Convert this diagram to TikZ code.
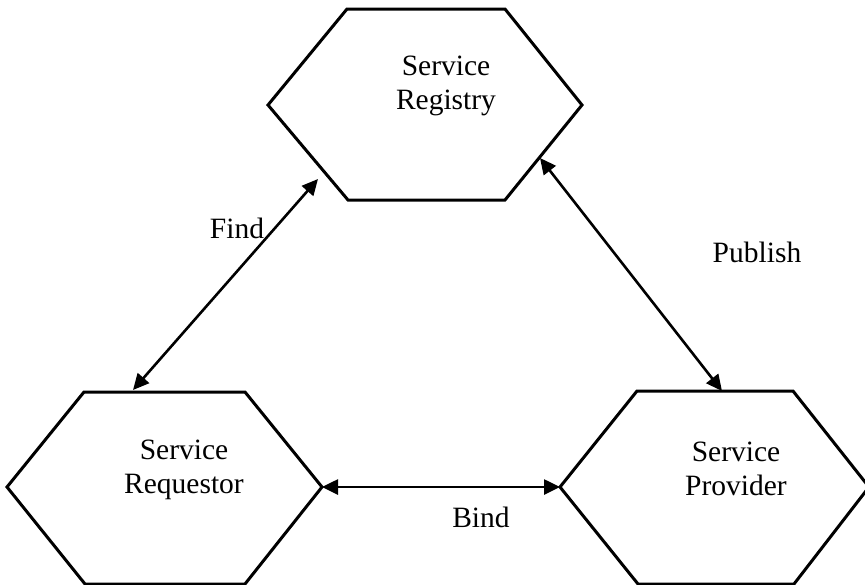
\documentclass[tikz,border=0pt]{standalone}
\usepackage{fontspec}
\setmainfont{Liberation Serif}
\usetikzlibrary{arrows.meta}
\begin{document}
\begin{tikzpicture}[x=1pt,y=-1pt,
  hexline/.style={draw=black, line width=3pt, line join=miter},
  conn/.style={line width=2.6pt, {Triangle[length=16pt,width=15pt]}-{Triangle[length=16pt,width=15pt]}},
  txt/.style={align=center, font=\fontsize{29.5}{34}\selectfont, inner sep=0pt},
  lbl/.style={font=\fontsize{29.5}{34}\selectfont, inner sep=0pt}]
\useasboundingbox (0,0) rectangle (865,584);
% Service Registry hexagon
\coordinate (regL) at (268,105);
\coordinate (regTL) at (347,9);
\coordinate (regTR) at (505,9);
\coordinate (regR) at (582,105);
\coordinate (regBR) at (505,200);
\coordinate (regBL) at (348,200);
\draw[hexline] (regL) -- (regTL) -- (regTR) -- (regR) -- (regBR) -- (regBL) -- cycle;
% Service Requestor hexagon
\coordinate (reqL) at (7,487);
\coordinate (reqTL) at (84,392);
\coordinate (reqTR) at (245,392);
\coordinate (reqR) at (322,487);
\coordinate (reqBR) at (245,584);
\coordinate (reqBL) at (85,584);
\draw[hexline] (reqL) -- (reqTL) -- (reqTR) -- (reqR) -- (reqBR) -- (reqBL) -- cycle;
% Service Provider hexagon
\coordinate (proL) at (560,487);
\coordinate (proTL) at (637,391);
\coordinate (proTR) at (793,391);
\coordinate (proR) at (869,487);
\coordinate (proBR) at (794,584);
\coordinate (proBL) at (638,584);
\draw[hexline] (proL) -- (proTL) -- (proTR) -- (proR) -- (proBR) -- (proBL) -- cycle;
% texts
\node[txt] (registry) at (446,86) {Service\\Registry};
\node[txt] (requestor) at (184,470) {Service\\Requestor};
\node[txt] (provider) at (736,469) {Service\\Provider};
% connector end points
\coordinate (findA) at (133,390);
\coordinate (findB) at (318,179);
\coordinate (pubA) at (540,158);
\coordinate (pubB) at (722,391);
% connectors
\draw[conn] (findA) -- (findB);
\draw[conn] (pubA) -- (pubB);
\draw[conn] (reqR) -- (proL);
% labels
\node[lbl] (find) at (237,228) {Find};
\node[lbl] (publish) at (757,252) {Publish};
\node[lbl] (bind) at (481,517) {Bind};
\end{tikzpicture}
\end{document}
